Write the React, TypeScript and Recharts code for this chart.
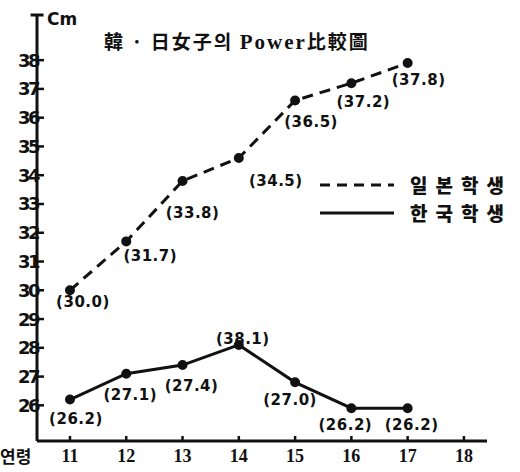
import React from "react";
import {
  LabelList,
  Legend,
  Line,
  LineChart,
  ReferenceLine,
  XAxis,
  YAxis,
} from "recharts";

// 연령 (age)
const ages = [11, 12, 13, 14, 15, 16, 17];
// 일본학생 (cm), read from plotted positions
const japan = [30.0, 31.7, 33.8, 34.6, 36.6, 37.2, 37.9];
// 한국학생 (cm)
const korea = [26.2, 27.1, 27.4, 28.1, 26.8, 25.9, 25.9];
// printed labels
const japanLabels = ["(30.0)", "(31.7)", "(33.8)", "(34.5)", "(36.5)", "(37.2)", "(37.8)"];
const koreaLabels = ["(26.2)", "(27.1)", "(27.4)", "(38.1)", "(27.0)", "(26.2)", "(26.2)"];
const xTicks = [11, 12, 13, 14, 15, 16, 17, 18];
const yTicks = [26, 27, 28, 29, 30, 31, 32, 33, 34, 35, 36, 37, 38];

// label placement relative to the point (layout only)
const japanOffsets = [[13, 12], [24, 15], [10, 32], [37, 23], [16, 22], [12, 19], [11, 17]];
const koreaOffsets = [[6, 19], [4, 21], [9, 21], [4, -6], [-5, 18], [-6, 17], [4, 17]];

const data = ages.map((age, i) => ({ age, japan: japan[i], korea: korea[i] }));

const INK = "#111";
const numFont = "'DejaVu Sans', sans-serif";

const makeLabel = (labels: string[], offsets: number[][]) => (props: any) => {
  const { x, y, index } = props;
  const [dx, dy] = offsets[index];
  return (
    <text
      x={x + dx}
      y={y + dy}
      textAnchor="middle"
      dominantBaseline="central"
      fontFamily={numFont}
      fontWeight={700}
      fontSize={15}
      letterSpacing={0.5}
      fill={INK}
    >
      {labels[index]}
    </text>
  );
};

const YTick = (props: any) => {
  const { x, y, payload } = props;
  return (
    <g>
      <line x1={x} x2={x + 7} y1={y} y2={y} stroke={INK} strokeWidth={2.5} />
      <text
        x={x + 1}
        y={y}
        textAnchor="end"
        dominantBaseline="central"
        fontFamily={numFont}
        fontWeight={700}
        fontSize={18}
        letterSpacing={-2.5}
        fill={INK}
      >
        {payload.value}
      </text>
    </g>
  );
};

const XTick = (props: any) => {
  const { x, y, payload } = props;
  return (
    <g>
      <line x1={x} x2={x} y1={y} y2={y - 5} stroke={INK} strokeWidth={2.5} />
      <text
        x={x}
        y={y + 15}
        textAnchor="middle"
        dominantBaseline="central"
        fontFamily="'Liberation Serif', serif"
        fontWeight={700}
        fontSize={18}
        fill={INK}
      >
        {payload.value}
      </text>
    </g>
  );
};

const renderLegend = (props: any) => {
  const items = props.payload || [];
  return (
    <div style={{ display: "flex", flexDirection: "column" }}>
      {items.map((it: any) => (
        <div key={it.value} style={{ display: "flex", alignItems: "center", height: 28 }}>
          <svg width={80} height={10}>
            <line
              x1={2}
              x2={76}
              y1={5}
              y2={5}
              stroke={INK}
              strokeWidth={3}
              strokeDasharray={it.dataKey === "japan" ? "10 7" : undefined}
            />
          </svg>
          <span
            style={{
              marginLeft: 12,
              fontFamily: "'Noto Sans CJK KR', sans-serif",
              fontWeight: 900,
              fontSize: 19,
              letterSpacing: 8,
              color: INK,
              lineHeight: "22px",
              whiteSpace: "nowrap",
            }}
          >
            {it.value}
          </span>
        </div>
      ))}
    </div>
  );
};

export default function App() {
  return (
    <div style={{ position: "absolute", left: 0, top: 0, width: 520, height: 472, background: "#fff" }}>
      <div
        style={{
          position: "absolute",
          left: 47,
          top: 9,
          fontFamily: "'DejaVu Sans', sans-serif",
          fontWeight: 700,
          fontSize: 17,
          color: INK,
        }}
      >
        Cm
      </div>
      <div
        style={{
          position: "absolute",
          left: 104,
          top: 27,
          fontFamily: "'Noto Sans CJK KR', serif",
          fontWeight: 700,
          fontSize: 19,
          letterSpacing: 2,
          color: INK,
          whiteSpace: "nowrap",
        }}
      >
        韓 · 日女子의 <span style={{ fontFamily: "'Liberation Serif', serif", fontSize: 21 }}>Power</span>比較圖
      </div>
      <LineChart
        width={520}
        height={472}
        data={data}
        margin={{ top: 15, right: 33, bottom: 30, left: 36 }}
      >
        <XAxis
          dataKey="age"
          type="number"
          domain={[10.414, 18.41]}
          ticks={xTicks}
          allowDataOverflow
          height={1}
          tickSize={0}
          tickMargin={0}
          tickLine={false}
          axisLine={{ stroke: INK, strokeWidth: 3 }}
          tick={<XTick />}
        />
        <YAxis
          type="number"
          domain={[24.76, 39.57]}
          ticks={yTicks}
          allowDataOverflow
          width={1}
          tickSize={0}
          tickMargin={0}
          tickLine={false}
          axisLine={{ stroke: INK, strokeWidth: 3 }}
          tick={<YTick />}
        />
        <ReferenceLine
          segment={[
            { x: 10.3, y: 39.57 },
            { x: 10.53, y: 39.57 },
          ]}
          stroke={INK}
          strokeWidth={3}
          ifOverflow="visible"
        />
        <Legend
          layout="vertical"
          align="center"
          verticalAlign="middle"
          content={renderLegend}
          wrapperStyle={{ left: 318, top: 171, width: 202, height: 56 }}
        />
        <Line
          name="일본학생"
          dataKey="japan"
          stroke={INK}
          strokeWidth={3}
          strokeDasharray="11 7"
          dot={{ r: 3.5, fill: INK, stroke: INK, strokeDasharray: "0" }}
          isAnimationActive={false}
        >
          <LabelList dataKey="japan" content={makeLabel(japanLabels, japanOffsets)} />
        </Line>
        <Line
          name="한국학생"
          dataKey="korea"
          stroke={INK}
          strokeWidth={3}
          dot={{ r: 3.5, fill: INK, stroke: INK }}
          isAnimationActive={false}
        >
          <LabelList dataKey="korea" content={makeLabel(koreaLabels, koreaOffsets)} />
        </Line>
      </LineChart>
      <div
        style={{
          position: "absolute",
          left: 0,
          top: 443,
          fontFamily: "'Noto Sans CJK KR', sans-serif",
          fontWeight: 700,
          fontSize: 17,
          color: INK,
        }}
      >
        연령
      </div>
    </div>
  );
}
